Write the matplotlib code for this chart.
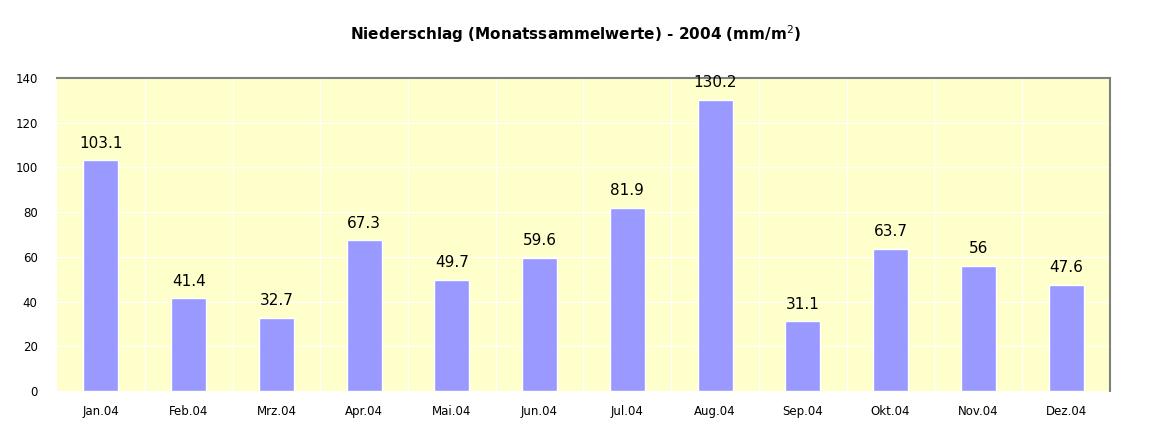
import matplotlib.pyplot as plt
import numpy as np

months = ['Jan.04', 'Feb.04', 'Mrz.04', 'Apr.04', 'Mai.04', 'Jun.04',
          'Jul.04', 'Aug.04', 'Sep.04', 'Okt.04', 'Nov.04', 'Dez.04']
rain = [103.1, 41.4, 32.7, 67.3, 49.7, 59.6, 81.9, 130.2, 31.1, 63.7, 56, 47.6]
labels = ['103.1', '41.4', '32.7', '67.3', '49.7', '59.6',
          '81.9', '130.2', '31.1', '63.7', '56', '47.6']

fig = plt.figure(figsize=(11.52, 4.38), dpi=100)
ax = fig.add_axes([0.0495, 0.1073, 0.914, 0.715])
ax.set_facecolor('#FFFFCC')

x = np.arange(len(months))
bars = ax.bar(x, rain, width=0.4, color='#9999FF', edgecolor='white',
              linewidth=1, zorder=3)

for b, lab in zip(bars, labels):
    ax.annotate(lab, (b.get_x() + b.get_width() / 2, b.get_height()),
                xytext=(0, 7), textcoords='offset points',
                ha='center', va='bottom', fontsize=11, zorder=4)

ax.set_xlim(-0.5, len(months) - 0.5)
ax.set_ylim(0, 140)
ax.set_yticks(range(0, 141, 20))
ax.set_xticks(x)
ax.set_xticklabels(months, fontsize=8.5)
ax.tick_params(axis='y', labelsize=8.5, length=0, pad=14)
ax.tick_params(axis='x', length=0, pad=10)

# white grid: horizontal at ticks, vertical at category boundaries
for y in range(20, 140, 20):
    ax.axhline(y, color='white', lw=0.8, zorder=1)
for xb in np.arange(0.5, len(months) - 0.5, 1):
    ax.axvline(xb, color='white', lw=0.8, zorder=1)

ax.spines['left'].set_visible(False)
ax.spines['bottom'].set_visible(False)
ax.spines['top'].set_color('#808080')
ax.spines['right'].set_color('#808080')
ax.spines['top'].set_linewidth(1.5)
ax.spines['right'].set_linewidth(1.5)

fig.text(0.5, 0.922, 'Niederschlag (Monatssammelwerte) - 2004 (mm/m$^2$)',
         ha='center', va='center', fontsize=11, fontweight='bold')

fig.savefig('out.png', dpi=100)
